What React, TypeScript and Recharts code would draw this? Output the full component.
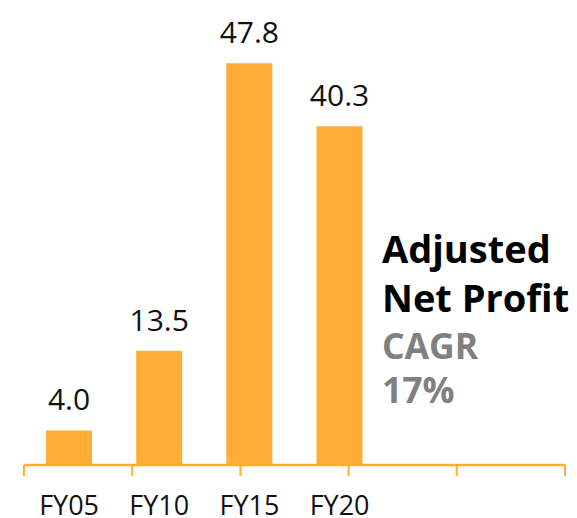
import { Bar, BarChart, LabelList, XAxis, YAxis } from 'recharts'

const categories = ['FY05', 'FY10', 'FY15', 'FY20', '', '']
const profit = [4.0, 13.5, 47.8, 40.3, null, null]
const boundaryTicks = [0, 1, 2, 3, 4, 5, 6]
const titleLines = ['Adjusted', 'Net Profit']
const cagrLines = ['CAGR', '17%']

const BAR_COLOR = '#FFAD36'
const FONT = '"Open Sans", "Noto Sans", sans-serif'

const data = categories.map((name, i) => ({ key: `c${i}`, name, value: profit[i] }))

const textLine = (top: number, size: number, color: string) => ({
  position: 'absolute' as const,
  left: 382,
  top,
  fontSize: size,
  lineHeight: 1,
  fontWeight: 700,
  color,
  whiteSpace: 'nowrap' as const,
})

export default function App() {
  return (
    <div style={{ position: 'absolute', left: 0, top: 0, width: 577, height: 518, fontFamily: FONT }}>
      <BarChart
        width={577}
        height={518}
        data={data}
        margin={{ top: 3, right: 12, bottom: 23, left: 24 }}
      >
        <XAxis
          dataKey="key"
          height={1}
          axisLine={false}
          tickLine={false}
          tickMargin={26}
          interval={0}
          tickFormatter={(_, i) => categories[i]}
          tick={{ fontSize: 27, fill: '#111', fontFamily: FONT }}
        />
        <XAxis
          xAxisId="bounds"
          type="number"
          domain={[0, categories.length]}
          ticks={boundaryTicks}
          height={30}
          tickFormatter={() => ''}
          tickSize={11}
          axisLine={{ stroke: BAR_COLOR, strokeWidth: 2.5 }}
          tickLine={{ stroke: BAR_COLOR, strokeWidth: 2 }}
        />
        <YAxis hide domain={[0, 55]} />
        <Bar dataKey="value" fill={BAR_COLOR} barSize={46} isAnimationActive={false}>
          <LabelList
            dataKey="value"
            position="top"
            offset={20}
            formatter={(v: number) => (v == null ? '' : v.toFixed(1))}
            style={{ fontSize: 30, fill: '#111', fontFamily: FONT }}
          />
        </Bar>
      </BarChart>
      <div style={textLine(229, 38, '#000')}>{titleLines[0]}</div>
      <div style={textLine(278, 38, '#000')}>{titleLines[1]}</div>
      <div style={textLine(328, 35.5, '#808080')}>{cagrLines[0]}</div>
      <div style={textLine(372, 35.5, '#808080')}>{cagrLines[1]}</div>
    </div>
  )
}
